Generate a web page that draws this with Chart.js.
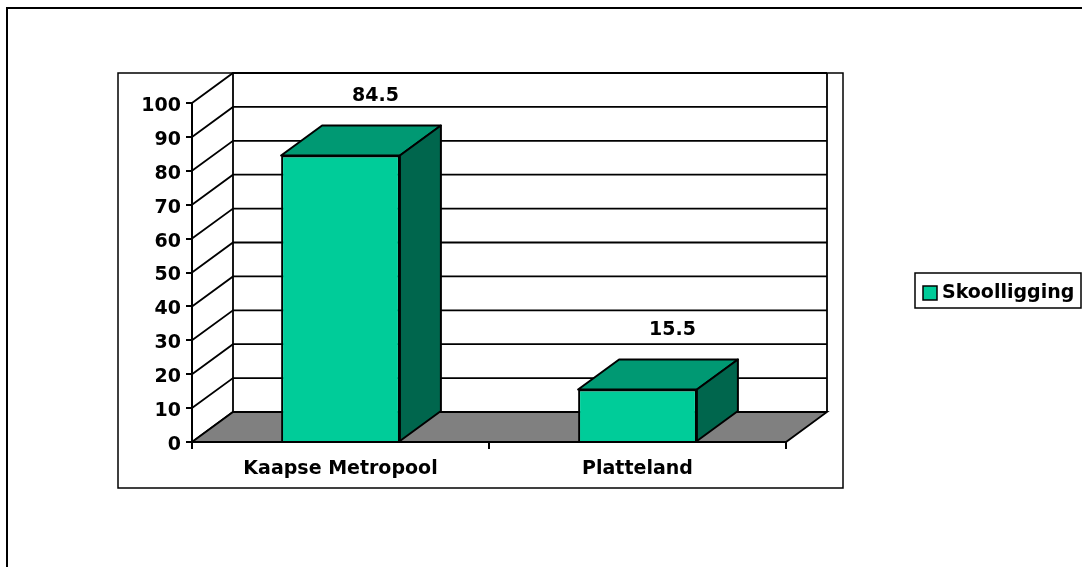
<!DOCTYPE html>
<html>
<head>
<meta charset="utf-8">
<script src="https://cdn.jsdelivr.net/npm/chart.js@4.4.1/dist/chart.umd.min.js"></script>
<style>
  html, body { margin: 0; padding: 0; background: #fff; }
  #wrap { width: 1082px; height: 567px; position: relative; }
</style>
</head>
<body>
<div id="wrap"><canvas id="chart"></canvas></div>
<script>
const categories = ['Kaapse Metropool', 'Platteland'];
const seriesLabel = 'Skoolligging';
const seriesValues = [84.5, 15.5];
const yTicks = [0, 10, 20, 30, 40, 50, 60, 70, 80, 90, 100];

const FONT = '"DejaVu Sans", Verdana, sans-serif';
const DEPTH_X = 41;
const DEPTH_Y = -30;
const frontColor = '#00CC99';
const topColor = '#009973';
const sideColor = '#00664D';

// back wall, floor and frames (drawn before the bars)
const wallsPlugin = {
  id: 'walls',
  beforeDatasetsDraw(chart) {
    const ctx = chart.ctx;
    const y = chart.scales.y;
    const x = chart.scales.x;
    const left = x.left, right = x.right;
    const bottom = y.getPixelForValue(0);
    const top = y.getPixelForValue(100);

    ctx.save();
    ctx.strokeStyle = '#000';

    // outer frame
    ctx.lineWidth = 2;
    ctx.strokeRect(7, 8, 1090, 575);
    // plot frame
    ctx.lineWidth = 1.5;
    ctx.strokeRect(118, 73, 725, 415);

    // gridlines on the back wall + side wall diagonals
    ctx.lineWidth = 1.8;
    yTicks.forEach(v => {
      const py = y.getPixelForValue(v);
      ctx.beginPath();
      ctx.moveTo(left, py);
      ctx.lineTo(left + DEPTH_X, py + DEPTH_Y);
      ctx.lineTo(right + DEPTH_X, py + DEPTH_Y);
      ctx.stroke();
    });
    // back wall verticals
    ctx.beginPath();
    ctx.moveTo(left + DEPTH_X, top + DEPTH_Y);
    ctx.lineTo(left + DEPTH_X, bottom + DEPTH_Y);
    ctx.moveTo(right + DEPTH_X, top + DEPTH_Y);
    ctx.lineTo(right + DEPTH_X, bottom + DEPTH_Y);
    ctx.stroke();

    // floor
    ctx.beginPath();
    ctx.moveTo(left, bottom);
    ctx.lineTo(right, bottom);
    ctx.lineTo(right + DEPTH_X, bottom + DEPTH_Y);
    ctx.lineTo(left + DEPTH_X, bottom + DEPTH_Y);
    ctx.closePath();
    ctx.fillStyle = '#808080';
    ctx.fill();
    ctx.stroke();
    ctx.restore();
  },
  afterDatasetsDraw(chart) {
    const ctx = chart.ctx;
    const meta = chart.getDatasetMeta(0);
    ctx.save();
    ctx.lineWidth = 2;
    ctx.strokeStyle = '#000';
    ctx.lineJoin = 'round';
    meta.data.forEach((bar, i) => {
      const x0 = bar.x - bar.width / 2;
      const x1 = bar.x + bar.width / 2;
      const yt = bar.y;
      const yb = bar.base;

      // top face
      ctx.beginPath();
      ctx.moveTo(x0, yt);
      ctx.lineTo(x0 + DEPTH_X, yt + DEPTH_Y);
      ctx.lineTo(x1 + DEPTH_X, yt + DEPTH_Y);
      ctx.lineTo(x1, yt);
      ctx.closePath();
      ctx.fillStyle = topColor;
      ctx.fill();
      ctx.stroke();

      // side face
      ctx.beginPath();
      ctx.moveTo(x1, yt);
      ctx.lineTo(x1 + DEPTH_X, yt + DEPTH_Y);
      ctx.lineTo(x1 + DEPTH_X, yb + DEPTH_Y);
      ctx.lineTo(x1, yb);
      ctx.closePath();
      ctx.fillStyle = sideColor;
      ctx.fill();
      ctx.stroke();

      // value label
      ctx.fillStyle = '#000';
      ctx.font = 'bold 19px ' + FONT;
      ctx.textAlign = 'center';
      ctx.textBaseline = 'middle';
      ctx.fillText(String(seriesValues[i]), bar.x + 35, yt + DEPTH_Y - 29);
    });
    ctx.restore();
  },
  afterDraw(chart) {
    // legend box
    const ctx = chart.ctx;
    ctx.save();
    ctx.lineWidth = 1.5;
    ctx.strokeStyle = '#000';
    ctx.strokeRect(915, 273, 166, 35);
    ctx.fillStyle = frontColor;
    ctx.fillRect(923, 286, 14, 14);
    ctx.strokeRect(923, 286, 14, 14);
    ctx.fillStyle = '#000';
    ctx.font = 'bold 19px ' + FONT;
    ctx.textAlign = 'left';
    ctx.textBaseline = 'middle';
    ctx.fillText(seriesLabel, 942, 293);
    ctx.restore();
  }
};

new Chart(document.getElementById('chart'), {
  type: 'bar',
  data: {
    labels: categories,
    datasets: [{
      label: seriesLabel,
      data: seriesValues,
      backgroundColor: frontColor,
      borderColor: '#000',
      borderWidth: 2,
      categoryPercentage: 1,
      barPercentage: 0.4
    }]
  },
  options: {
    responsive: true,
    maintainAspectRatio: false,
    animation: false,
    layout: { padding: { left: 118, top: 103, right: 296, bottom: 85 } },
    plugins: {
      legend: { display: false },
      tooltip: { enabled: false }
    },
    scales: {
      x: {
        afterFit: scale => { scale.height = 40; },
        grid: { offset: true, drawOnChartArea: false, tickLength: 7, color: '#000', lineWidth: 2 },
        border: { color: '#000', width: 2 },
        ticks: { color: '#000', padding: 9, font: { family: FONT, size: 19, weight: 'bold' } }
      },
      y: {
        min: 0,
        max: 100,
        afterFit: scale => { scale.width = 74; },
        grid: { drawOnChartArea: false, tickLength: 6, color: '#000', lineWidth: 2 },
        border: { color: '#000', width: 2 },
        ticks: { stepSize: 10, color: '#000', padding: 5, labelOffset: 3, font: { family: FONT, size: 19, weight: 'bold' } }
      }
    }
  },
  plugins: [wallsPlugin]
});
</script>
</body>
</html>
